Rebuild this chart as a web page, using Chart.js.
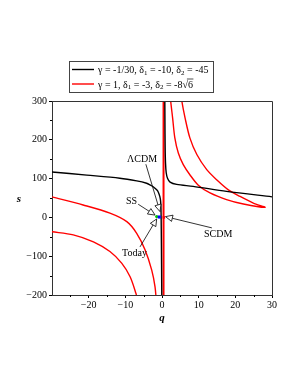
<!DOCTYPE html>
<html>
<head>
<meta charset="utf-8">
<script src="https://cdn.jsdelivr.net/npm/chart.js@4.4.0/dist/chart.umd.min.js"></script>
<style>
	body { margin: 0; background: #fff; }
	#wrap { width: 298px; height: 385px; }
</style>
</head>
<body>
<div id="wrap"><canvas id="chart" width="298" height="385"></canvas></div>
<script>
// ticks
var xTicks = [-20, -10, 0, 10, 20, 30];
var yTicks = [-200, -100, 0, 100, 200, 300];

// black curve (gamma = -1/30)
var blackLeftQ = [-30, -20.5, -11.5, -6.9, -4.2, -3.3, -2.4, -1.45, -1.0, -0.6, -0.38, -0.28, -0.2, -0.12, -0.05];
var blackLeftS = [117, 109, 101, 94, 88, 84, 79, 71, 65, 54, 42, 25, -30, -120, -220];
var blackRightQ = [0.76, 0.8, 0.86, 0.96, 1.15, 1.5, 2.2, 4.0, 8.5, 17.6, 30];
var blackRightS = [320, 250, 180, 140, 115, 101, 91, 85, 80, 67, 53];

// red curves (gamma = 1)
var redUpperLeftQ = [-30, -21.5, -14.2, -9.6, -6.9, -4.6, -2.8, -1.9, -1.55];
var redUpperLeftS = [53, 32, 11, -11, -41, -84, -136, -179, -215];
var redLowerLeftQ = [-30, -24.2, -18.7, -14.2, -11, -8.7, -7.1, -6.7];
var redLowerLeftS = [-37, -45, -63, -88, -118, -153, -196, -212];
var redOuterQ = [5.2, 5.4, 6.3, 7.6, 9.5, 12.2, 14.9, 18.1, 21.3, 24.9, 28.1];
var redOuterS = [320, 300, 256, 205, 162, 123, 97, 71, 54, 37, 26];
var redInnerQ = [22.2, 17.6, 13.1, 9.9, 7.6, 5.8, 4.45, 3.5, 2.9, 2.37, 2.25];
var redInnerS = [34.5, 46, 63, 83, 110, 136, 166, 205, 256, 300, 320];
var redVerticalQ = [0.42, 0.42];
var redVerticalS = [320, -220];

// points
var todayPt = { q: -1.45, s: 2 };
var ssPt = { q: -0.74, s: 1 };
var scdmPt = { q: 0.5, s: 0 };

// annotations: label, text position, arrow start, arrow tip
var annLabels = ['ΛCDM', 'SS', 'Today', 'SCDM'];
var annTextQ = [-5.45, -8.3, -7.5, 15.3];
var annTextS = [150, 42, -94, -43];
var annFromQ = [-4.4, -6.5, -6.0, 13.6];
var annFromS = [137, 34, -76, -27];
var annToQ = [-0.55, -1.9, -1.45, 0.95];
var annToS = [15, 6, -4, 2];

var legendRows = [
	[['γ = -1/30, δ'], ['1', 'sub'], [' = -10, δ'], ['2', 'sub'], [' = -45']],
	[['γ = 1, δ'], ['1', 'sub'], [' = -3, δ'], ['2', 'sub'], [' = -8'], ['√'], ['6', 'root']]
];
var legendColors = ['#000000', '#ff0000'];

var SERIF = '"Liberation Serif", "Times New Roman", serif';

function pts(qs, ss) {
	return qs.map(function(q, i) { return { x: q, y: ss[i] }; });
}

function fmt(v) {
	return v < 0 ? '\u2212' + Math.abs(v) : '' + v;
}

function curve(data, color, width) {
	return {
		data: data,
		showLine: true,
		borderColor: color,
		borderWidth: width || 1.4,
		pointRadius: 0,
		tension: 0.3,
		fill: false
	};
}

function arrowHead(ctx, x0, y0, x1, y1) {
	var a = Math.atan2(y1 - y0, x1 - x0);
	var len = 7, hw = 3.2;
	var bx = x1 - len * Math.cos(a), by = y1 - len * Math.sin(a);
	ctx.beginPath();
	ctx.moveTo(x0, y0);
	ctx.lineTo(bx, by);
	ctx.stroke();
	ctx.beginPath();
	ctx.moveTo(x1, y1);
	ctx.lineTo(bx + hw * Math.sin(a), by - hw * Math.cos(a));
	ctx.lineTo(bx - hw * Math.sin(a), by + hw * Math.cos(a));
	ctx.closePath();
	ctx.fillStyle = '#fff';
	ctx.fill();
	ctx.stroke();
}

var extras = {
	id: 'extras',
	afterDatasetsDraw: function(chart) {
		var ctx = chart.ctx, area = chart.chartArea;
		var xs = chart.scales.x, ys = chart.scales.y;
		ctx.save();

		// frame top / right
		ctx.strokeStyle = '#333';
		ctx.lineWidth = 1;
		ctx.beginPath();
		ctx.moveTo(area.left, area.top + 0.5);
		ctx.lineTo(area.right + 0.5, area.top + 0.5);
		ctx.lineTo(area.right + 0.5, area.bottom);
		ctx.stroke();

		// minor ticks
		ctx.strokeStyle = '#000';
		ctx.beginPath();
		for (var v = -30; v <= 30; v += 5) {
			if (v % 10 === 0) continue;
			var px = Math.round(xs.getPixelForValue(v)) + 0.5;
			ctx.moveTo(px, area.bottom);
			ctx.lineTo(px, area.bottom + 2);
		}
		for (var w = -150; w <= 300; w += 100) {
			var py = Math.round(ys.getPixelForValue(w)) + 0.5;
			ctx.moveTo(area.left - 2, py);
			ctx.lineTo(area.left, py);
		}
		ctx.stroke();

		// annotations
		ctx.font = '10px ' + SERIF;
		ctx.fillStyle = '#000';
		ctx.textAlign = 'center';
		ctx.textBaseline = 'middle';
		ctx.lineWidth = 0.8;
		_.each(annLabels, function(label, i) {
			ctx.fillStyle = '#000';
			ctx.fillText(label, xs.getPixelForValue(annTextQ[i]), ys.getPixelForValue(annTextS[i]));
			arrowHead(ctx,
				xs.getPixelForValue(annFromQ[i]), ys.getPixelForValue(annFromS[i]),
				xs.getPixelForValue(annToQ[i]), ys.getPixelForValue(annToS[i]));
		});

		// axis titles
		ctx.fillStyle = '#000';
		ctx.font = 'italic bold 11px ' + SERIF;
		ctx.fillText('q', (area.left + area.right) / 2, area.bottom + 23);
		ctx.fillText('s', 19, (area.top + area.bottom) / 2 + 1);

		// legend box
		var lx = 69, ly = 61, lw = 144, lh = 31;
		ctx.strokeStyle = '#444';
		ctx.lineWidth = 1;
		ctx.strokeRect(lx + 0.5, ly + 0.5, lw, lh);
		ctx.textAlign = 'left';
		ctx.textBaseline = 'alphabetic';
		_.each(legendRows, function(row, r) {
			var y = 69.5 + r * 14.5;
			ctx.strokeStyle = legendColors[r];
			ctx.lineWidth = 1.4;
			ctx.beginPath();
			ctx.moveTo(72, y);
			ctx.lineTo(94, y);
			ctx.stroke();
			var x = 98;
			var base = y + 3.5;
			_.each(row, function(seg) {
				if (seg[1] === 'sub') {
					ctx.font = '7px ' + SERIF;
					ctx.fillText(seg[0], x, base + 1.5);
				} else {
					ctx.font = '10px ' + SERIF;
					ctx.fillText(seg[0], x, base);
				}
				var wd = ctx.measureText(seg[0]).width;
				if (seg[1] === 'root') {
					ctx.strokeStyle = '#000';
					ctx.lineWidth = 0.7;
					ctx.beginPath();
					ctx.moveTo(x - 1, base - 8.5);
					ctx.lineTo(x + wd + 0.5, base - 8.5);
					ctx.stroke();
				}
				x += wd;
			});
		});
		ctx.restore();
	}
};

// tiny helper so the loops above read plainly
var _ = {
	each: function(arr, fn) { for (var i = 0; i < arr.length; i++) fn(arr[i], i); }
};

var axisFont = { family: SERIF, size: 10 };

new Chart(document.getElementById('chart').getContext('2d'), {
	type: 'scatter',
	data: {
		datasets: [
			{ data: [{ x: ssPt.q, y: ssPt.s }], pointStyle: 'rect', pointRadius: 2.2, backgroundColor: '#0000ff', borderColor: '#0000ff', borderWidth: 0 },
			{ data: [{ x: todayPt.q, y: todayPt.s }], pointStyle: 'circle', pointRadius: 1.6, backgroundColor: '#00cc00', borderColor: '#00cc00', borderWidth: 0 },
			{ data: [{ x: scdmPt.q, y: scdmPt.s }], pointStyle: 'rect', pointRadius: 1.8, backgroundColor: '#ff0000', borderColor: '#ff0000', borderWidth: 0 },
			curve(pts(blackLeftQ, blackLeftS), '#000000'),
			curve(pts(blackRightQ, blackRightS), '#000000'),
			curve(pts(redVerticalQ, redVerticalS), '#ff0000', 2),
			curve(pts(redUpperLeftQ, redUpperLeftS), '#ff0000'),
			curve(pts(redLowerLeftQ, redLowerLeftS), '#ff0000'),
			curve(pts(redOuterQ.concat(redInnerQ), redOuterS.concat(redInnerS)), '#ff0000')
		]
	},
	options: {
		responsive: false,
		animation: false,
		layout: { padding: { top: 101, right: 26, bottom: 70, left: 0 } },
		plugins: { legend: { display: false }, tooltip: { enabled: false } },
		scales: {
			x: {
				type: 'linear',
				min: -30,
				max: 30,
				afterBuildTicks: function(axis) {
					axis.ticks = xTicks.map(function(v) { return { value: v }; });
				},
				afterFit: function(scale) { scale.height = 20; },
				ticks: { callback: fmt, font: axisFont, color: '#000', maxRotation: 0, autoSkip: false, padding: 1 },
				grid: { drawOnChartArea: false, drawTicks: true, tickLength: 3, color: '#000' },
				border: { display: true, color: '#333', width: 1 }
			},
			y: {
				type: 'linear',
				min: -200,
				max: 300,
				afterBuildTicks: function(axis) {
					axis.ticks = yTicks.map(function(v) { return { value: v }; });
				},
				afterFit: function(scale) { scale.width = 52; },
				ticks: { callback: fmt, font: axisFont, color: '#000', autoSkip: false, padding: 2 },
				grid: { drawOnChartArea: false, drawTicks: true, tickLength: 3, color: '#000' },
				border: { display: true, color: '#333', width: 1 }
			}
		}
	},
	plugins: [extras]
});
</script>
</body>
</html>
